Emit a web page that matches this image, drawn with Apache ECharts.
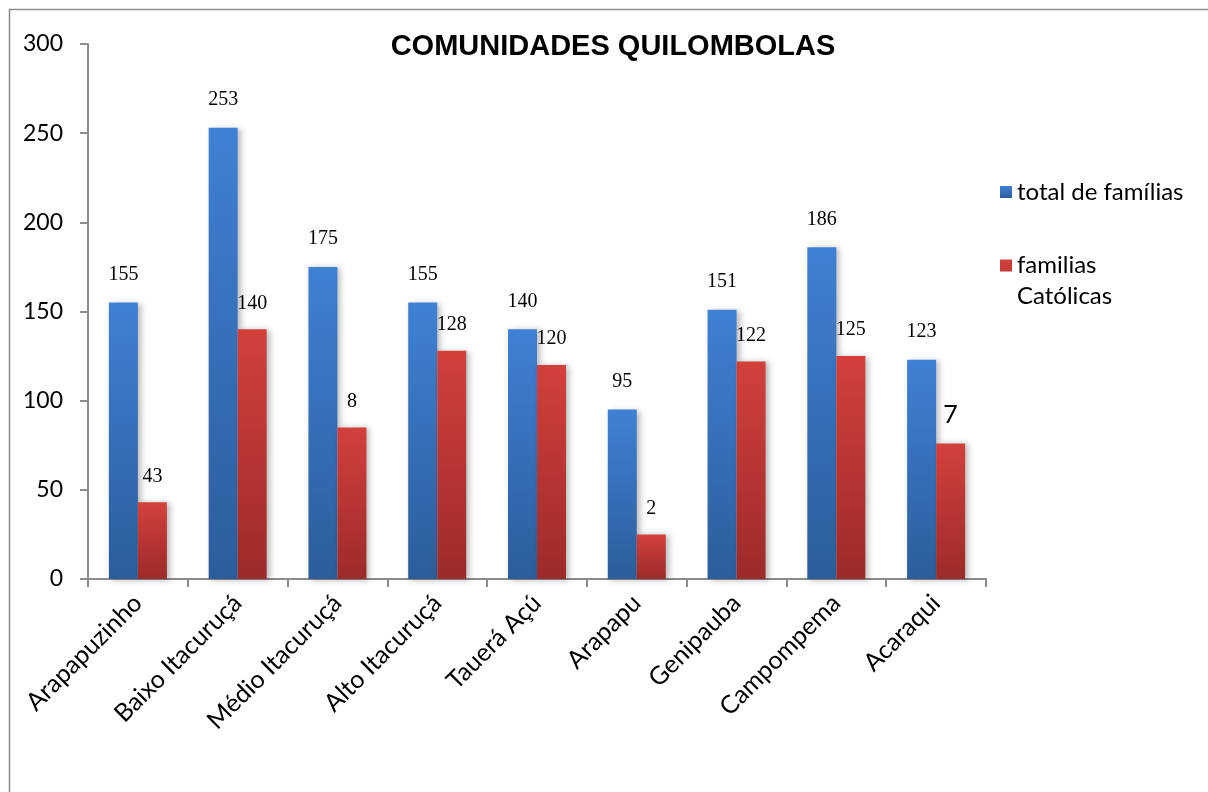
<!DOCTYPE html>
<html>
<head>
<meta charset="utf-8">
<title>Comunidades Quilombolas</title>
<script src="https://cdn.jsdelivr.net/npm/echarts@6/dist/echarts.min.js"></script>
<style>
  html, body { margin: 0; padding: 0; background: #ffffff; }
  #chart { width: 1208px; height: 792px; }
</style>
</head>
<body>
<div id="chart"></div>
<script>
// Communities (categories)
const comunidades = ['Arapapuzinho', 'Baixo Itacuruçá', 'Médio Itacuruçá', 'Alto Itacuruçá',
  'Tauerá Açú', 'Arapapu', 'Genipauba', 'Campompema', 'Acaraqui'];

// Total families per community
const totalFamilias = [155, 253, 175, 155, 140, 95, 151, 186, 123];

// Catholic families per community
const familiasCatolicas = [43, 140, 85, 128, 120, 25, 122, 125, 76];

// Value labels printed above the Catholic bars (some were printed truncated)
const rotulosCatolicas = ['43', '140', '8', '128', '120', '2', '122', '125', '7'];

// Value axis ticks
const eixoMin = 0, eixoMax = 300, eixoPasso = 50;

const chart = echarts.init(document.getElementById('chart'), null, { renderer: 'canvas' });

const gradAzul = new echarts.graphic.LinearGradient(0, 0, 0, 1, [
  { offset: 0, color: '#3F81D4' },
  { offset: 1, color: '#2C5D9B' }
]);
const gradVermelho = new echarts.graphic.LinearGradient(0, 0, 0, 1, [
  { offset: 0, color: '#D3403C' },
  { offset: 1, color: '#9C2B29' }
]);

const sombra = {
  shadowColor: 'rgba(0,0,0,0.28)',
  shadowBlur: 6,
  shadowOffsetX: 3,
  shadowOffsetY: 1
};

const serif = '"Liberation Serif", "DejaVu Serif", serif';
const sans = 'Lato, "Open Sans", sans-serif';

chart.setOption({
  animation: false,
  backgroundColor: '#ffffff',
  graphic: [{
    type: 'rect',
    left: 7, top: 7,
    shape: { width: 1260, height: 840 },
    style: { fill: 'none', stroke: '#8c8c8c', lineWidth: 1.5 },
    silent: true,
    z: -1
  }],
  title: {
    text: 'COMUNIDADES QUILOMBOLAS',
    left: 608,
    top: 27,
    textAlign: 'center',
    textStyle: {
      fontFamily: '"Liberation Sans", Arial, sans-serif',
      fontWeight: 'bold',
      fontSize: 29,
      color: '#000'
    }
  },
  legend: [{
    orient: 'vertical',
    left: 995,
    top: 175,
    itemWidth: 12,
    itemHeight: 12,
    itemGap: 10,
    icon: 'rect',
    data: ['total de famílias'],
    textStyle: { fontFamily: sans, fontSize: 24, color: '#000', padding: [0, 0, 0, 0] }
  }, {
    orient: 'vertical',
    left: 995,
    top: 245,
    itemWidth: 12,
    itemHeight: 43,
    // square sits at the top of a taller icon box so it lines up with the first text line
    icon: 'path://M0,0h12v12h-12z M0,43',
    data: ['familias Católicas'],
    formatter: function (n) { return n.replace(' ', '\n'); },
    textStyle: { fontFamily: sans, fontSize: 24, lineHeight: 31, color: '#000', padding: [0, 0, 0, 0] }
  }],
  grid: {
    left: 88,
    right: 222,
    top: 44,
    bottom: 213,
    containLabel: false
  },
  xAxis: {
    type: 'category',
    data: comunidades,
    axisLine: { lineStyle: { color: '#8c8c8c', width: 2 } },
    axisTick: { show: true, length: 8, lineStyle: { color: '#8c8c8c', width: 2 }, alignWithLabel: false },
    axisLabel: {
      rotate: 45,
      interval: 0,
      margin: 20,
      fontFamily: sans,
      fontSize: 25,
      color: '#000'
    }
  },
  yAxis: {
    type: 'value',
    min: eixoMin,
    max: eixoMax,
    interval: eixoPasso,
    splitLine: { show: false },
    axisLine: { show: true, lineStyle: { color: '#8c8c8c', width: 2 } },
    axisTick: { show: true, length: 8, inside: false, lineStyle: { color: '#8c8c8c', width: 2 } },
    axisLabel: {
      margin: 25,
      fontFamily: sans,
      fontSize: 23,
      color: '#000'
    }
  },
  series: [{
    name: 'total de famílias',
    type: 'bar',
    data: totalFamilias,
    barWidth: 29,
    barGap: '0%',
    itemStyle: Object.assign({ color: gradAzul }, sombra),
    label: {
      show: true,
      position: 'top',
      distance: 18,
      fontFamily: serif,
      fontSize: 20,
      color: '#000'
    }
  }, {
    name: 'familias Católicas',
    type: 'bar',
    data: familiasCatolicas,
    barWidth: 29,
    barGap: '0%',
    itemStyle: Object.assign({ color: gradVermelho }, sombra),
    label: {
      show: true,
      position: 'top',
      distance: 16,
      fontFamily: serif,
      fontSize: 20,
      color: '#000',
      formatter: function (p) {
        const t = rotulosCatolicas[p.dataIndex];
        return p.dataIndex === comunidades.length - 1 ? '{s|' + t + '}' : t;
      },
      rich: {
        s: { fontFamily: sans, fontSize: 25, color: '#000' }
      }
    }
  }]
});
</script>
</body>
</html>
